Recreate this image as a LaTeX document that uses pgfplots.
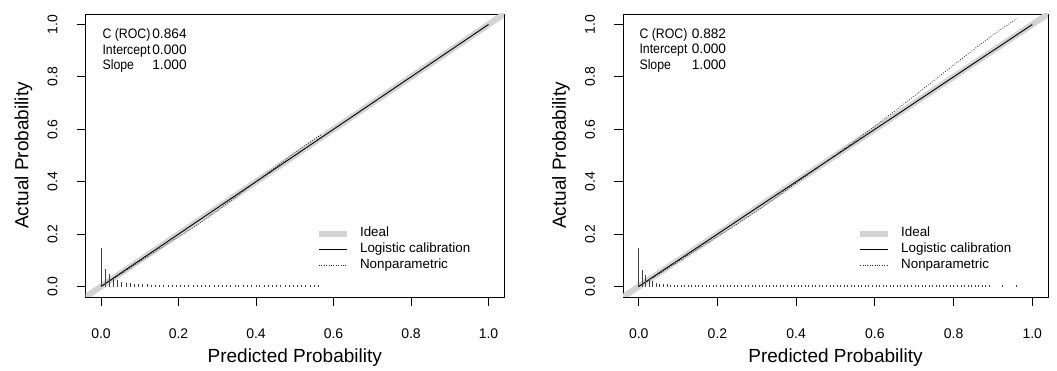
\documentclass[border=0pt]{standalone}
\usepackage{fontspec}
\setmainfont{Liberation Sans}
\usepackage{graphicx}
\usepackage{pgfplots}
\pgfplotsset{compat=1.18}
\definecolor{idealgray}{RGB}{211,211,211}
\tikzset{annot/.style={font=\fontsize{13.7}{15}\selectfont, inner sep=0pt, outer sep=0pt}}
\newcommand{\nm}[1]{\scalebox{0.9}[1]{#1}}
\pgfplotsset{
  calib/.style={
    scale only axis,
    xmin=-0.04, xmax=1.04, ymin=-0.04, ymax=1.04,
    xtick={0,0.2,0.4,0.6,0.8,1.0}, ytick={0,0.2,0.4,0.6,0.8,1.0},
    tick align=outside, tick pos=left,
    major tick length=9pt,
    major tick style={line width=0.9pt, black},
    axis line style={line width=0.9pt},
    tick label style={font=\fontsize{14}{16}\selectfont},
    xticklabel style={anchor=center, yshift=-28pt},
    yticklabel style={xshift=-24pt, rotate=90, anchor=center},
    /pgf/number format/.cd, fixed, fixed zerofill, precision=1, assume math mode=true, /pgfplots/.cd,
    every axis x label/.style={at={(axis description cs:0.5,0)}, yshift=-61pt, anchor=center, font=\fontsize{19}{22}\selectfont},
    every axis y label/.style={at={(axis description cs:0,0.5)}, xshift=-62pt, rotate=90, anchor=center, font=\fontsize{19}{22}\selectfont},
    xlabel={Predicted Probability}, ylabel={Actual Probability},
    legend style={draw=none, fill=none, at={(axis cs:0.555,0.226)}, anchor=north west,
      inner sep=0pt, outer sep=0pt, row sep=3.5pt, column sep=10pt,
      font=\fontsize{13.4}{15}\selectfont,
      nodes={inner sep=0pt, text height=9.5pt, text depth=3pt}},
    legend cell align=left,
    legend image code/.code={\draw[##1] (0pt,0pt) -- (28pt,0pt);},
  },
  ideal/.style={idealgray, line width=6pt},
  logi/.style={black, line width=0.9pt},
  nonpar/.style={black!85, line width=0.8pt, dash pattern=on 0.8pt off 1.6pt},
  spike/.style={ycomb, no marks, black!75, line width=1pt, forget plot},
}
\begin{document}
\begin{tikzpicture}
\path[use as bounding box] (0,0) rectangle (1057pt,371pt);
% ---------------- left panel ----------------
\begin{axis}[calib, at={(85.5pt,74pt)}, anchor=south west, width=418.5pt, height=283pt]
\addplot[ideal] coordinates {(-0.04,-0.04) (1.04,1.04)};
\addlegendentry{Ideal}
\addplot[logi] coordinates {(0,0) (1,1)};
\addlegendentry{Logistic calibration}
\addplot[nonpar] coordinates {(0,0) (0.05,0.046) (0.1,0.095) (0.15,0.143) (0.2,0.19) (0.25,0.237) (0.3,0.289) (0.35,0.344) (0.4,0.4) (0.45,0.455) (0.5,0.51) (0.55,0.562) (0.567,0.578)};
\addlegendentry{Nonparametric}
\addplot[spike] coordinates {
(0.002,0.146)(0.011,0.066)(0.022,0.046)(0.032,0.032)(0.043,0.024)(0.054,0.018)(0.065,0.014)(0.076,0.012)(0.086,0.010)(0.097,0.009)
(0.108,0.008)(0.119,0.008)(0.130,0.007)(0.140,0.007)(0.151,0.007)(0.162,0.007)(0.173,0.007)(0.184,0.007)(0.194,0.007)(0.205,0.006)
(0.216,0.006)(0.227,0.006)(0.238,0.006)(0.248,0.006)(0.259,0.006)(0.270,0.006)(0.281,0.006)(0.292,0.006)(0.302,0.006)(0.313,0.006)
(0.324,0.006)(0.335,0.006)(0.346,0.006)(0.356,0.006)(0.367,0.006)(0.378,0.006)(0.389,0.006)(0.400,0.006)(0.410,0.005)(0.421,0.005)
(0.432,0.005)(0.443,0.005)(0.454,0.005)(0.464,0.005)(0.475,0.005)(0.486,0.005)(0.497,0.005)(0.508,0.005)(0.518,0.005)(0.529,0.005)
(0.540,0.005)(0.551,0.005)(0.562,0.005)};
\node[annot, anchor=base west] at (axis cs:0.004,0.945) {\nm{C (ROC)}};
\node[annot, anchor=base east] at (axis cs:0.221,0.945) {0.864};
\node[annot, anchor=base west] at (axis cs:0.004,0.886) {\nm{Intercept}};
\node[annot, anchor=base east] at (axis cs:0.221,0.886) {0.000};
\node[annot, anchor=base west] at (axis cs:0.004,0.827) {\nm{Slope}};
\node[annot, anchor=base east] at (axis cs:0.221,0.827) {1.000};
\end{axis}
% ---------------- right panel ----------------
\begin{axis}[calib, at={(623pt,74pt)}, anchor=south west, width=425pt, height=283pt]
\addplot[ideal] coordinates {(-0.04,-0.04) (1.04,1.04)};
\addlegendentry{Ideal}
\addplot[logi] coordinates {(0,0) (1,1)};
\addlegendentry{Logistic calibration}
\addplot[nonpar] coordinates {(0,0) (0.05,0.047) (0.1,0.095) (0.15,0.143) (0.2,0.191) (0.25,0.239) (0.3,0.289) (0.35,0.341) (0.4,0.395) (0.45,0.448) (0.5,0.502) (0.55,0.556) (0.6,0.612) (0.65,0.669) (0.7,0.727) (0.75,0.786) (0.8,0.845) (0.85,0.903) (0.9,0.96) (0.96,1.022)};
\addlegendentry{Nonparametric}
\addplot[spike] coordinates {
(0.000,0.146)(0.009,0.062)(0.018,0.045)(0.027,0.030)(0.036,0.020)(0.045,0.014)(0.054,0.011)(0.063,0.009)(0.072,0.008)(0.081,0.007)
(0.090,0.007)(0.099,0.007)(0.108,0.006)(0.117,0.006)(0.126,0.006)(0.135,0.006)(0.144,0.006)(0.153,0.006)(0.162,0.006)(0.171,0.006)
(0.180,0.006)(0.189,0.006)(0.198,0.006)(0.207,0.006)(0.216,0.006)(0.225,0.006)(0.234,0.006)(0.243,0.006)(0.252,0.006)(0.261,0.006)
(0.270,0.006)(0.279,0.006)(0.288,0.006)(0.297,0.006)(0.306,0.006)(0.315,0.006)(0.324,0.006)(0.333,0.006)(0.342,0.006)(0.351,0.006)
(0.360,0.006)(0.369,0.006)(0.378,0.006)(0.387,0.006)(0.396,0.006)(0.405,0.006)(0.414,0.006)(0.423,0.006)(0.432,0.006)(0.441,0.006)
(0.450,0.006)(0.459,0.006)(0.468,0.006)(0.477,0.006)(0.486,0.006)(0.495,0.006)(0.504,0.006)(0.513,0.005)(0.522,0.005)(0.531,0.005)
(0.540,0.005)(0.549,0.005)(0.558,0.005)(0.567,0.005)(0.576,0.005)(0.585,0.005)(0.594,0.005)(0.603,0.005)(0.612,0.005)(0.621,0.005)
(0.630,0.005)(0.639,0.005)(0.648,0.005)(0.657,0.005)(0.666,0.005)(0.675,0.005)(0.684,0.005)(0.693,0.005)(0.702,0.005)(0.711,0.005)
(0.720,0.005)(0.729,0.005)(0.738,0.005)(0.747,0.005)(0.756,0.005)(0.765,0.005)(0.774,0.005)(0.783,0.005)(0.792,0.005)(0.801,0.005)
(0.810,0.005)(0.819,0.005)(0.828,0.005)(0.837,0.005)(0.846,0.005)(0.855,0.005)(0.864,0.005)(0.873,0.005)(0.882,0.005)(0.891,0.005)
(0.924,0.005)(0.959,0.005)};
\node[annot, anchor=base west] at (axis cs:0.002,0.947) {\nm{C (ROC)}};
\node[annot, anchor=base east] at (axis cs:0.222,0.947) {0.882};
\node[annot, anchor=base west] at (axis cs:0.002,0.889) {\nm{Intercept}};
\node[annot, anchor=base east] at (axis cs:0.222,0.889) {0.000};
\node[annot, anchor=base west] at (axis cs:0.002,0.830) {\nm{Slope}};
\node[annot, anchor=base east] at (axis cs:0.222,0.830) {1.000};
\end{axis}
\end{tikzpicture}
\end{document}
